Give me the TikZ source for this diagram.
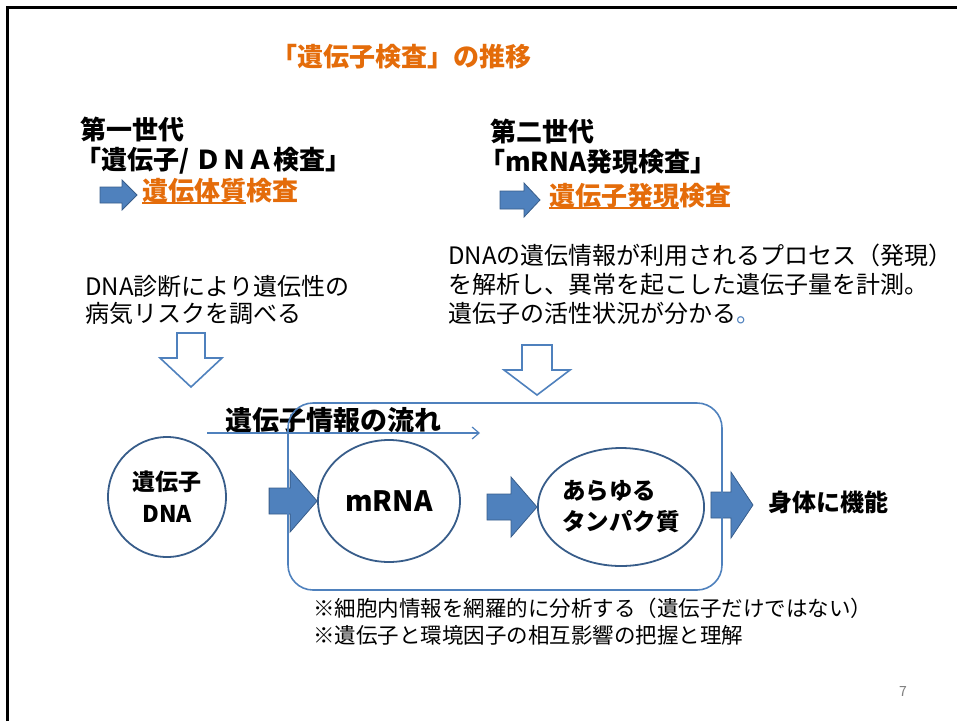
\documentclass[tikz,border=0pt]{standalone}
\usepackage{fontspec}
\setmainfont{Noto Sans CJK JP}
\usetikzlibrary{shapes.geometric,arrows.meta,calc}

\definecolor{accent}{RGB}{79,129,189}
\definecolor{accentdark}{RGB}{56,93,138}
\definecolor{titleorange}{RGB}{228,108,10}

% underline only part of a heading
\newcommand\markline[1]{\setbox0\hbox{#1}\rlap{\rule[-4pt]{\wd0}{1.8pt}}\box0}

% filled block arrow pointing right: tip, length, head length, head half width, shaft half width
\newcommand\rightblock[6][]{%
  \draw[#1] (#2) -- ++(-#4,-#5) -- ++(0,#5-#6) -- ++(#4-#3,0) -- ++(0,2*#6)
    -- ++(#3-#4,0) -- ++(0,#5-#6) -- cycle;}
% block arrow pointing down, same arguments
\newcommand\downblock[6][]{%
  \draw[#1] (#2) -- ++(-#5,-#4) -- ++(#5-#6,0) -- ++(0,#4-#3) -- ++(2*#6,0)
    -- ++(0,#3-#4) -- ++(#5-#6,0) -- cycle;}

\tikzset{
  heading/.style={inner sep=0pt, anchor=west, font=\bfseries\fontsize{26}{30}\selectfont},
  orangehead/.style={heading, text=titleorange},
  plain/.style={inner sep=0pt, anchor=west, align=left},
  ring/.style={ellipse, draw=accentdark, line width=1.8pt, fill=white, inner sep=0pt,
    font=\bfseries\fontsize{23}{32}\selectfont},
  solidarrow/.style={fill=accent, draw=accentdark, line width=0.8pt},
  hollowarrow/.style={fill=white, draw=accent, line width=1.6pt},
  groupbox/.style={draw=accent, line width=1.6pt, rounded corners=25pt},
  flowline/.style={draw=accent, line width=1.2pt, -{Straight Barb[length=7pt,width=12pt]}},
}

\begin{document}
\begin{tikzpicture}[x=1pt,y=-1pt]
  \useasboundingbox (0,0) rectangle (957,721);
  \draw[line width=3pt] (7,721) -- (7,7) -- (957,7);

  \node[orangehead] (title) at (271,57) {「遺伝子検査」の推移};

  % first generation
  \node[heading] (gen1) at (80,129) {第一世代};
  \node[heading] (gen1test) at (75,161) {「遺伝子/ ＤＮＡ検査」};
  \node[orangehead] (kind1) at (142,191) {\markline{遺伝体質}検査};
  \rightblock[solidarrow]{$(kind1.west)+(-5,4)$}{37}{15}{15}{8}
  \node[plain, font=\fontsize{24}{27}\selectfont] (desc1) at (85,300)
    {DNA診断により遺伝性の\\病気リスクを調べる};

  % second generation
  \node[heading] (gen2) at (490,131) {第二世代};
  \node[heading] (gen2test) at (479,162) {「mRNA発現検査」};
  \node[orangehead] (kind2) at (549,196) {\markline{遺伝子発現}検査};
  \rightblock[solidarrow]{$(kind2.west)+(-9,4)$}{40}{16}{17}{9}
  \node[plain, font=\fontsize{24}{29}\selectfont] (desc2) at (448,284)
    {DNAの遺伝情報が利用されるプロセス（発現）\\
     を解析し、異常を起こした遺伝子量を計測。\\
     遺伝子の活性状況が分かる{\color{accent}。}};

  \coordinate (down1) at (191,387);
  \coordinate (down2) at (537,395);
  \downblock[hollowarrow]{down1}{54}{29}{31}{14}
  \downblock[hollowarrow]{down2}{50}{25}{33}{15}

  % flow of information
  \node[heading, font=\bfseries\fontsize{27}{30}\selectfont] (flow) at (225,420) {遺伝子情報の流れ};
  \coordinate (flowstart) at (207,433);
  \coordinate (flowend) at (480,433);
  \draw[flowline] (flowstart) -- (flowend);

  \node[ring, minimum width=118pt, minimum height=120pt, align=center] (dna) at (167,497)
    {遺伝子\\DNA};
  \node[ring, minimum width=142pt, minimum height=122pt, font=\bfseries\fontsize{28}{30}\selectfont] (mrna) at (389,501)
    {mRNA};
  \node[ring, minimum width=166pt, minimum height=118pt, align=left, font=\bfseries\fontsize{23.5}{31}\selectfont] (prot) at (621,507)
    {あらゆる\\タンパク質};
  \node[heading, font=\bfseries\fontsize{24}{28}\selectfont] (body) at (768,502) {身体に機能};

  \rightblock[solidarrow]{mrna.west}{48}{27}{31}{13}
  \rightblock[solidarrow]{prot.west}{50}{26}{30}{13}
  \rightblock[solidarrow]{$(prot.east)+(48,-2)$}{42}{22}{33}{13}

  \draw[groupbox] (288,403) rectangle (722,590);

  \node[plain, font=\fontsize{21.5}{27}\selectfont] (notes) at (313,621.5)
    {※細胞内情報を網羅的に分析する（遺伝子だけではない）\\
     ※遺伝子と環境因子の相互影響の把握と理解};

  \node[text=gray, font=\fontsize{14}{16}\selectfont] (page) at (903,691) {7};
\end{tikzpicture}
\end{document}
